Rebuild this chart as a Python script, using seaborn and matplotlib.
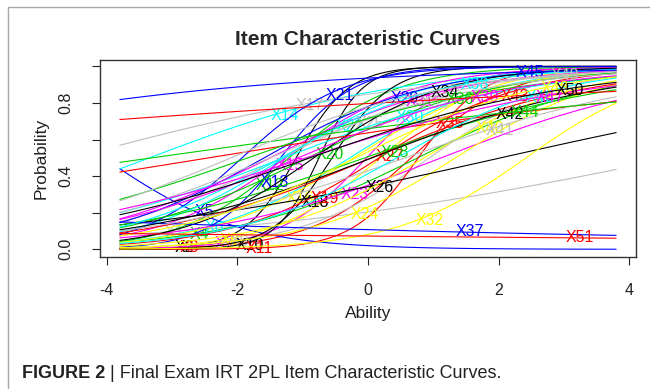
import numpy as np
import pandas as pd
import matplotlib
matplotlib.use("Agg")
import matplotlib.pyplot as plt
from matplotlib.lines import Line2D
import seaborn as sns

# 2PL item parameters, estimated from the curves in the figure
items = [f"X{i}" for i in range(1, 52)]
discrimination = [0.29, 2.5, 1.3, 0.7, -0.96, 0.9, 1.5, 1.2, 1.0, 3.0,
                  2.0, 1.2, 1.8, 0.536, 1.0, 0.9, 0.38, 2.2, 0.9, 0.7,
                  1.3, 0.9, 0.55, 0.9, 0.7, 0.32, 0.6, 0.5, 0.8, 0.55,
                  0.7, 1.0, 0.6, 1.0, 0.23, 0.5, -0.1, 0.8, 0.6, 0.84,
                  0.5, 0.55, 0.125, 0.2, 0.31, 0.8, 0.45, 0.7, 0.6, 0.5,
                  -0.05]
difficulty = [4.68, -1.1, 0.66, 0.76, -4.05, -0.28, -0.02, 0.19, 0.94, -0.75,
              0.77, -1.21, -1.34, -3.35, -1.26, -0.22, -4.53, -0.55, 0.17, -0.92,
              -1.93, -1.29, 1.12, 1.34, -1.33, 2.03, 0.05, -0.05, -1.59, -1.29,
              -1.50, 2.42, -1.50, -0.83, -2.44, -1.84, -21.16, -1.33, -1.07, 0.86,
              0.57, 0.06, -10.95, -3.31, -8.66, 0.44, -0.95, -0.19, -2.10, -0.89,
              -50.97]

ability = np.linspace(-3.8, 3.8, 100)

r_palette = ["black", "red", "#00CD00", "blue", "cyan", "magenta", "yellow", "#BEBEBE"]
item_colors = [r_palette[(i - 2) % 8] for i in range(1, 52)]

rows = []
for name, a, b in zip(items, discrimination, difficulty):
    p = 1.0 / (1.0 + np.exp(-a * (ability - b)))
    rows.append(pd.DataFrame({"Ability": ability, "Probability": p, "item": name}))
df = pd.concat(rows, ignore_index=True)

sns.set_theme(style="ticks")
plt.rcParams["font.family"] = ["Liberation Sans", "DejaVu Sans"]

fig = plt.figure(figsize=(6.5, 3.89), dpi=100)
ax = fig.add_axes([100 / 650, 1 - 257 / 389, 536 / 650, 197 / 389])

# each curve then its label, so later curves run over earlier labels
pos = np.round(np.linspace(10, 90, len(items))).astype(int) - 1
for k, name in enumerate(items):
    sub = df[df["item"] == name]
    sns.lineplot(data=sub, x="Ability", y="Probability", color=item_colors[k],
                 linewidth=0.8, ax=ax, zorder=2 + 0.01 * k)
    ax.text(sub["Ability"].iloc[pos[k]], sub["Probability"].iloc[pos[k]], name,
            color=item_colors[k], fontsize=11.5, ha="left", va="center",
            clip_on=True, zorder=2.005 + 0.01 * k)

ax.set_xlim(-4.104, 4.104)
ax.set_ylim(-0.042, 1.035)
ax.set_xticks([-4, -2, 0, 2, 4])
ax.set_xticklabels(["-4", "-2", "0", "2", "4"])
ax.set_yticks([0, 0.2, 0.4, 0.6, 0.8, 1.0])
ax.set_yticklabels(["0.0", "", "0.4", "", "0.8", ""], rotation=90, va="center")
ax.tick_params(direction="out", length=6, width=0.8, labelsize=11.5, pad=13,
               colors="#222222")
for s in ax.spines.values():
    s.set_color("#333333")
    s.set_linewidth(1.0)

ax.set_title("Item Characteristic Curves", fontsize=15, fontweight="bold", pad=11)
ax.set_xlabel("Ability", fontsize=12.5, color="#222222")
ax.set_ylabel("Probability", fontsize=12.5, color="#222222")
ax.xaxis.set_label_coords(0.5, -0.25)
ax.yaxis.set_label_coords(-0.095, 0.5)

# caption
t1 = fig.text(22 / 650, 1 - 374 / 389, "FIGURE 2", fontsize=13, fontweight="bold",
              va="center", ha="left", color="#222222")
fig.canvas.draw()
bb = t1.get_window_extent()
fig.text(bb.x1 / 650, 1 - 374 / 389, " | Final Exam IRT 2PL Item Characteristic Curves.",
         fontsize=13, va="center", ha="left", color="#222222")

# thin frame of the figure panel
fig.add_artist(Line2D([8 / 650, 8 / 650], [0, 1 - 7 / 389], color="#a8a8a8", lw=1.0))
fig.add_artist(Line2D([8 / 650, 1], [1 - 7 / 389, 1 - 7 / 389], color="#a8a8a8", lw=1.0))

fig.savefig("out.png", dpi=100)
